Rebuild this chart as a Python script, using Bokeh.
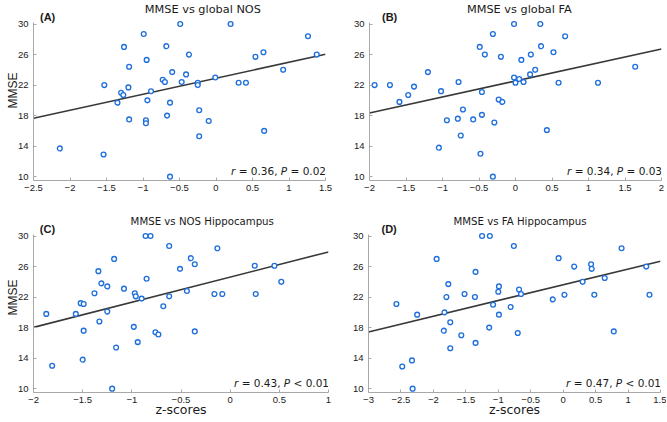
import math
from bokeh.plotting import figure
from bokeh.models import Range1d, FixedTicker, Label
from bokeh.layouts import column, row
from bokeh.embed import file_html
from bokeh.resources import INLINE

# ---------------- data ----------------
y_ticks = [10, 14, 18, 22, 26, 30]
y_lo, y_hi = 9.5, 30.2

a_title = "MMSE vs global NOS"
a_x = [-0.49, 0.20, -0.99, 1.26, -1.26, -0.68, 0.65, 1.38, -0.37, 0.54, -0.95, -1.19, 0.92, -0.60,
       -0.41, -0.01, -0.73, -0.70, -0.47, -0.25, -0.25, 0.31, 0.41, -1.53, -1.20, -0.89, -1.30, -1.27,
       -0.94, -1.35, -0.63, -0.23, -0.67, -1.19, -0.96, -0.96, -0.10, 0.66, -0.23, -2.14, -1.54, -0.63]
a_y = [30, 30, 28.7, 28.4, 27.0, 27.1, 26.3, 26.0, 26.0, 25.7, 25.3, 24.4, 24.0, 23.7,
       23.4, 23.0, 22.7, 22.4, 22.4, 22.3, 22.0, 22.3, 22.3, 22.0, 21.7, 21.2, 21.0, 20.7,
       20.0, 19.7, 19.7, 18.7, 18.0, 17.5, 17.4, 17.0, 17.3, 16.0, 15.3, 13.7, 12.9, 10.0]
a_fit_x = [-2.5, 1.5]
a_fit_y = [17.65, 26.04]
a_xticks = [-2.5, -2, -1.5, -1, -0.5, 0, 0.5, 1, 1.5]

b_title = "MMSE vs global FA"
b_x = [-0.02, 0.34, -0.31, 0.68, -0.49, 0.35, -0.42, 0.21, 0.52, -0.20, 0.08, 1.64, 0.27, -1.20,
       0.20, -0.02, 0.05, 0.00, 0.11, -0.78, 0.59, 1.13, -1.93, -1.72, -1.39, -1.47, -1.02, -0.46,
       -1.59, -0.23, -0.18, -0.72, -0.46, -0.79, -0.94, -0.58, -0.29, 0.43, -0.75, -1.05, -0.48, -0.31]
b_y = [30, 30, 28.7, 28.4, 27.0, 27.1, 26.0, 26.0, 26.3, 25.7, 25.3, 24.4, 24.0, 23.7,
       23.4, 23.0, 22.8, 22.3, 22.4, 22.4, 22.3, 22.3, 22.0, 22.0, 21.8, 20.7, 21.2, 21.1,
       19.8, 20.1, 19.8, 18.8, 18.1, 17.6, 17.4, 17.5, 17.1, 16.1, 15.4, 13.8, 13.0, 10.0]
b_fit_x = [-2, 2]
b_fit_y = [18.35, 26.74]
b_xticks = [-2, -1.5, -1, -0.5, 0, 0.5, 1, 1.5, 2]

c_title = "MMSE vs NOS Hippocampus"
c_x = [-0.86, -0.81, -0.62, -0.13, -1.18, -0.40, 0.25, 0.45, -0.36, -0.51, -1.34, -0.85, 0.52, -1.31,
       -1.25, -1.08, -0.44, -1.38, -0.97, -0.16, -0.08, 0.26, -0.96, -0.62, -0.90, -1.52, -1.49, -0.68,
       -1.25, -1.87, -1.57, -1.33, -0.98, -1.49, -0.76, -0.73, -0.36, -0.94, -1.16, -1.50, -1.81, -1.20]
c_y = [30, 30, 28.7, 28.4, 27.0, 27.1, 26.1, 26.1, 26.3, 25.7, 25.4, 24.4, 24.0, 23.8,
       23.4, 23.1, 22.8, 22.5, 22.5, 22.4, 22.4, 22.4, 22.1, 22.1, 21.8, 21.2, 21.1, 20.8,
       20.1, 19.8, 19.8, 18.8, 18.1, 17.6, 17.4, 17.1, 17.5, 16.1, 15.4, 13.8, 13.0, 10.0]
c_fit_x = [-2, 1]
c_fit_y = [18.03, 27.92]
c_xticks = [-2, -1.5, -1, -0.5, 0, 0.5, 1]

d_title = "MMSE vs FA Hippocampus"
d_x = [-1.25, -1.13, -0.76, 0.90, -1.95, -0.07, 0.17, 0.43, 1.28, 0.44, -1.35, 0.64, 0.30, -1.77,
       -0.99, -1.00, -0.68, -0.65, -1.52, 0.02, 0.48, 1.33, -1.80, -1.36, -0.16, -2.57, -1.08, -0.81,
       -1.83, -2.25, -0.99, -1.74, -1.14, -1.84, -0.70, 0.78, -1.57, -1.35, -1.74, -2.33, -2.48, -2.32]
d_y = [30, 30, 28.7, 28.4, 27.0, 27.1, 26.0, 26.3, 26.0, 25.7, 25.3, 24.5, 24.0, 23.7,
       23.4, 22.7, 23.0, 22.4, 22.4, 22.3, 22.3, 22.3, 22.0, 22.0, 21.7, 21.1, 21.0, 20.7,
       20.0, 19.7, 19.7, 18.7, 18.0, 17.6, 17.3, 17.5, 17.0, 16.0, 15.3, 13.7, 12.9, 10.0]
d_fit_x = [-3, 1.5]
d_fit_y = [17.43, 26.70]
d_xticks = [-3, -2.5, -2, -1.5, -1, -0.5, 0, 0.5, 1, 1.5]

letters = ["(A)", "(B)", "(C)", "(D)"]
stat_r = ["0.36", "0.34", "0.43", "0.47"]
stat_p = ["= 0.02", "= 0.03", "< 0.01", "< 0.01"]
y_label = "MMSE"
x_label = "z-scores"

# ---------------- styling ----------------
AXIS_C = "#a8a8a8"
TXT_C = "#1a1a1a"
PT_C = "#1f6fdc"
FIT_C = "#383838"
SANS = "DejaVu Sans"
TICKF = "Liberation Sans"


def fmt(t):
    return ("%g" % t).replace("-", "\u2212")


def panel(xs, ys, fx, fy, xticks, title, tsize, tcx, letter, lx, r, pv,
          bl, fw, br, tp, dh, bb, ylab=False, xlab=False):
    width = bl + fw + br
    height = tp + dh + bb
    x0, x1 = xticks[0], xticks[-1]
    y_end = y_lo + (y_hi - y_lo) * (dh + tp) / float(dh)
    p = figure(width=width, height=height, title=None,
               x_range=Range1d(x0, x1), y_range=Range1d(y_lo, y_end),
               toolbar_location=None, output_backend="svg",
               min_border_left=bl, min_border_right=br, min_border_top=0, min_border_bottom=bb)
    p.outline_line_color = None
    p.xgrid.visible = False
    p.ygrid.visible = False
    for ax, ticks in ((p.xaxis[0], xticks), (p.yaxis[0], y_ticks)):
        ax.ticker = FixedTicker(ticks=ticks)
        ax.minor_tick_line_color = None
        ax.major_tick_in = 3
        ax.major_tick_out = 0
        ax.axis_line_color = AXIS_C
        ax.major_tick_line_color = AXIS_C
        ax.major_label_text_font = TICKF
        ax.major_label_text_font_size = "9.5px"
        ax.major_label_text_color = TXT_C
        ax.major_label_overrides = {t: fmt(t) for t in ticks}
    p.yaxis[0].major_label_standoff = 5
    p.xaxis[0].major_label_standoff = 4
    p.yaxis[0].bounds = (y_lo, y_hi)
    if ylab:
        ax = p.yaxis[0]
        ax.axis_label = y_label
        ax.axis_label_text_font = TICKF
        ax.axis_label_text_font_size = "12px"
        ax.axis_label_text_font_style = "normal"
        ax.axis_label_text_color = TXT_C
        ax.axis_label_standoff = -5
    if xlab:
        ax = p.xaxis[0]
        ax.axis_label = x_label
        ax.axis_label_text_font = SANS
        ax.axis_label_text_font_size = "12.5px"
        ax.axis_label_text_font_style = "normal"
        ax.axis_label_text_color = TXT_C
        ax.axis_label_standoff = -4
    p.line(fx, fy, line_color=FIT_C, line_width=1.6)
    p.scatter(xs, ys, marker="circle", size=4.8, line_color=PT_C, line_width=1.35,
              fill_color="white")
    # title and panel letter (inside the frame's top padding)
    p.add_layout(Label(x=x0 + tcx * (x1 - x0), y=dh + 13, x_units="data", y_units="screen",
                       text=title, text_font=SANS, text_font_size=tsize, text_color=TXT_C,
                       text_align="center", text_baseline="alphabetic"))
    p.add_layout(Label(x=x0, x_offset=lx, y=dh + 5.5, x_units="data", y_units="screen",
                       text=letter, text_font=TICKF, text_font_size="11px", text_font_style="bold",
                       text_color=TXT_C, text_align="left", text_baseline="alphabetic"))
    # statistics, built from pieces (italic r and P), anchored at the right end of the x range
    fs = 10.5
    em = fs / 2048.0
    L = 0.5 - 95.0
    pieces = [("r", 0.0, "italic"),
              ("= " + r + ",", (842 + 651) * em, "normal"),
              ("P", (842 + 651 + 7578 + 651) * em, "italic"),
              (pv, (842 + 651 + 7578 + 651 + 1235 + 651) * em, "normal")]
    for txt, off, st in pieces:
        p.add_layout(Label(x=x1, x_offset=L + off, y=9.5, x_units="data", y_units="screen",
                           text=txt, text_font=SANS, text_font_size="%gpx" % fs,
                           text_font_style=st, text_color=TXT_C,
                           text_align="left", text_baseline="alphabetic"))
    return p


DH = 158
pa = panel(a_x, a_y, a_fit_x, a_fit_y, a_xticks, a_title, "11.3px", 0.58, letters[0], 6.5,
           stat_r[0], stat_p[0], 33, 292, 17, 22, DH, 22, ylab=True)
pb = panel(b_x, b_y, b_fit_x, b_fit_y, b_xticks, b_title, "11.3px", 0.513, letters[1], 12.5,
           stat_r[1], stat_p[1], 27, 292, 5, 22, DH, 22)
pc = panel(c_x, c_y, c_fit_x, c_fit_y, c_xticks, c_title, "10.2px", 0.572, letters[2], 6.3,
           stat_r[2], stat_p[2], 33, 295, 13, 32, DH, 30, ylab=True, xlab=True)
pd = panel(d_x, d_y, d_fit_x, d_fit_y, d_xticks, d_title, "10.2px", 0.519, letters[3], 13.0,
           stat_r[3], stat_p[3], 27, 292, 6, 32, DH, 30, xlab=True)

layout = column(row(pa, pb), row(pc, pd))
open("out.html", "w").write(file_html(layout, INLINE))
